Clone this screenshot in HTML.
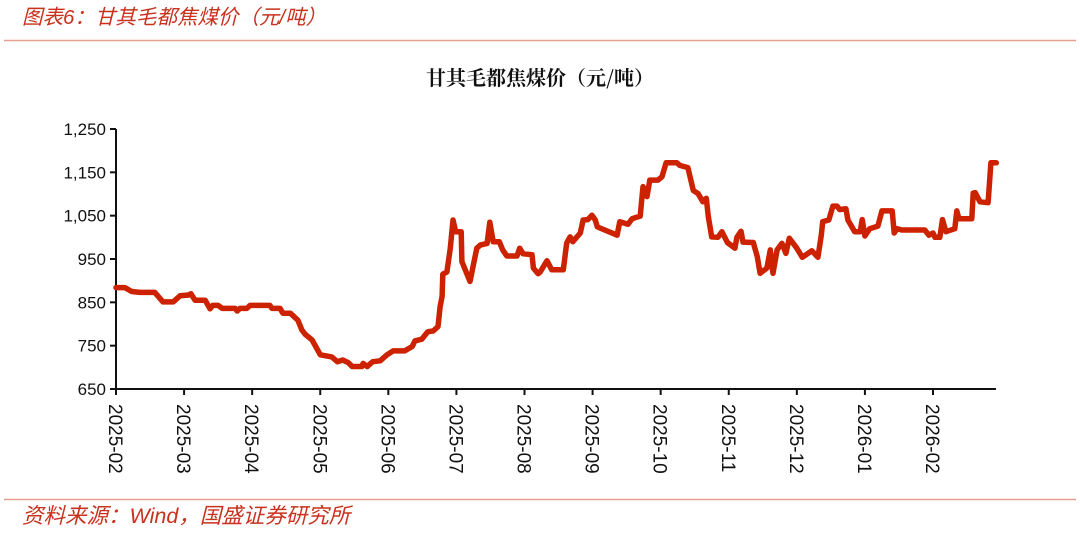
<!DOCTYPE html>
<html><head><meta charset="utf-8"><style>
body{margin:0;background:#fff;width:1080px;height:531px;overflow:hidden;font-family:"Liberation Sans","Noto Sans CJK SC",sans-serif}
</style></head><body>
<svg width="1080" height="531" xmlns="http://www.w3.org/2000/svg">
<text x="22" y="24" font-size="20.5" font-style="italic" fill="#c8321e" font-family="Liberation Sans,Noto Sans CJK SC,sans-serif">图表6：甘其毛都焦煤价（元/吨）</text>
<line x1="4" y1="40.5" x2="1076" y2="40.5" stroke="#e4a08f" stroke-width="1.5"/>
<text x="540" y="85" font-size="20" font-weight="bold" text-anchor="middle" fill="#111" font-family="Noto Serif CJK SC,Noto Sans CJK SC,serif">甘其毛都焦煤价（元/吨）</text>
<g id="axes"></g>
<path id="line" fill="none" stroke="#cc2200" stroke-width="5.5" stroke-linejoin="round" stroke-linecap="round"/>
<line x1="4" y1="499.5" x2="1076" y2="499.5" stroke="#e4a08f" stroke-width="1.5"/>
<text x="22" y="523" font-size="21.5" font-style="italic" fill="#c8321e">资料来源：Wind，国盛证券研究所</text>
</svg>
<script>
const monthLabels=["2025-02","2025-03","2025-04","2025-05","2025-06","2025-07","2025-08","2025-09","2025-10","2025-11","2025-12","2026-01","2026-02"];
const yTicks=[650,750,850,950,1050,1150,1250];
const tMonths=[0,0.13,0.23,0.35,0.57,0.69,0.84,0.94,1.07,1.10,1.16,1.31,1.38,1.42,1.50,1.56,1.75,1.78,1.82,1.92,1.97,2.26,2.29,2.41,2.45,2.56,2.67,2.73,2.78,2.88,3.00,3.17,3.25,3.33,3.41,3.47,3.61,3.63,3.69,3.77,3.88,3.98,4.07,4.24,4.35,4.39,4.49,4.58,4.66,4.73,4.76,4.79,4.80,4.86,4.91,4.95,4.99,5.07,5.08,5.20,5.30,5.35,5.45,5.49,5.54,5.63,5.68,5.74,5.89,5.93,5.98,6.11,6.13,6.20,6.23,6.33,6.40,6.57,6.62,6.67,6.71,6.82,6.86,6.93,6.99,7.04,7.07,7.36,7.40,7.52,7.58,7.70,7.74,7.80,7.84,7.96,8.02,8.08,8.24,8.28,8.40,8.48,8.55,8.62,8.67,8.70,8.75,8.84,8.90,8.98,9.09,9.12,9.18,9.21,9.36,9.42,9.46,9.56,9.61,9.65,9.71,9.78,9.84,9.89,10.00,10.08,10.22,10.31,10.36,10.38,10.47,10.53,10.59,10.63,10.72,10.75,10.85,10.93,10.96,11.00,11.07,11.19,11.25,11.40,11.43,11.47,11.54,11.88,11.94,12.00,12.03,12.10,12.14,12.19,12.32,12.35,12.38,12.57,12.59,12.62,12.69,12.81,12.85,12.93];
const prices=[884,884,875,873,873,851,851,865,867,870,855,855,835,843,843,836,836,830,836,836,843,843,836,836,825,825,809,786,776,763,729,724,713,717,711,702,702,709,702,713,715,729,738,738,748,761,765,782,784,794,840,864,915,920,975,1040,1013,1013,944,898,975,982,986,1035,990,990,971,957,957,975,962,960,929,916,920,946,925,925,987,1001,990,1010,1040,1041,1051,1040,1024,1005,1036,1030,1043,1049,1117,1094,1132,1132,1140,1172,1172,1166,1161,1108,1101,1082,1090,1048,1001,1000,1013,988,975,1000,1014,989,988,955,917,929,971,917,971,986,963,998,975,954,969,954,1005,1036,1040,1072,1072,1064,1066,1040,1013,1013,1041,1003,1020,1026,1061,1061,1010,1020,1017,1017,1005,1010,1000,1000,1041,1013,1020,1061,1043,1043,1102,1103,1082,1080,1172,1172];
const X0=116,X12=933,Y650=389,Y1250=129;
const xs=m=>X0+m*(X12-X0)/12;
const ys=v=>Y650-(v-650)*(Y650-Y1250)/600;
const NS="http://www.w3.org/2000/svg";
const g=document.getElementById('axes');
function mk(tag,attrs){const e=document.createElementNS(NS,tag);for(const k in attrs)e.setAttribute(k,attrs[k]);g.appendChild(e);return e;}
let e=mk('line',{x1:X0,y1:Y1250,x2:X0,y2:Y650,stroke:'#111','stroke-width':2});


e=mk('line',{x1:X0,y1:Y650,x2:996,y2:Y650,stroke:'#111','stroke-width':2});


yTicks.forEach(v=>{
 const t=mk('line',{x1:X0-6,y1:ys(v),x2:X0,y2:ys(v),stroke:'#111','stroke-width':2});
 
 
 const l=mk('text',{x:X0-10,y:ys(v)+6,'text-anchor':'end','font-size':17,fill:'#111'});
 l.textContent=v.toLocaleString('en-US');
 
 
});
monthLabels.forEach((s,i)=>{
 const x=xs(i);
 const t=mk('line',{x1:x,y1:Y650,x2:x,y2:Y650+6,stroke:'#111','stroke-width':2});
 
 
 const l=mk('text',{x:0,y:0,'font-size':19,fill:'#111',transform:`translate(${x-7},404) rotate(90)`});
 l.textContent=s;
 
 
});
document.getElementById('line').setAttribute('d',tMonths.map((m,i)=>(i?'L':'M')+xs(m).toFixed(1)+','+ys(prices[i]).toFixed(1)).join(''));
</script>
</body></html>
